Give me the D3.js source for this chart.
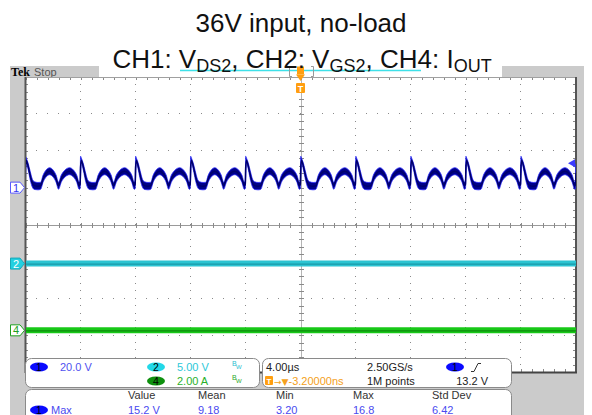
<!DOCTYPE html>
<html><head><meta charset="utf-8">
<script src="https://cdn.jsdelivr.net/npm/d3@7/dist/d3.min.js"></script>
<style>body{margin:0;background:#fff;} svg{display:block;font-family:"Liberation Sans",Arial,sans-serif;}</style>
</head><body><svg id="c" width="592" height="415"></svg>
<script>
// ---------- data ----------
const usPerDiv = 4;                // 4.00 µs / div
const numDivX = 10, numDivY = 8;
const periodsUs = [0, 4, 8, 12, 16, 20, 24, 28, 32, 36];   // start of each CH1 switching cycle (µs)
// one switching cycle of CH1 (VDS2): time in µs, upper and lower edge of the noisy trace in V
const ch1T  = [0.00, 0.06, 0.20, 0.35, 0.50, 0.65, 0.90, 1.10, 1.28, 1.48, 1.75, 2.02, 2.22, 2.40, 2.60, 2.85, 3.20, 3.50, 3.72, 3.90, 3.97];
const ch1Hi = [17.0, 16.0, 13.0, 8.5, 4.5, 3.2, 2.8, 2.9, 6.8, 9.4, 10.8, 9.4, 6.8, 2.9, 6.8, 9.4, 10.8, 9.4, 6.8, 3.0, 4.2];
const ch1Lo = [5.0, 13.5, 9.5, 4.0, 0.2, -1.0, -1.2, -0.9, 3.0, 5.6, 7.0, 5.6, 3.0, -0.9, 3.0, 5.6, 7.0, 5.6, 3.0, -0.9, -0.6];
const ch1EndHi = 13.0, ch1EndLo = 3.0;  // start of the next cycle at the right edge
const ch2T = [0, 40], ch2V = [0, 0];  // VGS2 (V)
const ch4T = [0, 40], ch4I = [0, 0];  // IOUT (A)
const ch1Scale = 20, ch2Scale = 5, ch4Scale = 2;          // per div
const ch1Pos = 1.0, ch2Pos = -1.06, ch4Pos = -2.87;       // ground position (div)
const trigLevel = 13.2;
const titleLine1 = "36V input, no-load";
const measHeaders = ["Value", "Mean", "Min", "Max", "Std Dev"];
const measValues = ["15.2 V", "9.18", "3.20", "16.8", "6.42"];

// ---------- scales ----------
const svg = d3.select("#c");
const x = d3.scaleLinear().domain([0, numDivX * usPerDiv]).range([25.5, 576]);
const yDiv = d3.scaleLinear().domain([-4, 4]).range([372, 77]);
const chY = (pos, sc) => d3.scaleLinear().domain([(-4 - pos) * sc, (4 - pos) * sc]).range([372, 77]);
const y1 = chY(ch1Pos, ch1Scale), y2 = chY(ch2Pos, ch2Scale), y4 = chY(ch4Pos, ch4Scale);

// ---------- scope frame ----------
svg.append("rect").attr("x", 10).attr("y", 66).attr("width", 574).attr("height", 349).attr("fill", "#cbcbcb");
svg.append("rect").attr("x", 99).attr("y", 66).attr("width", 403).attr("height", 11).attr("fill", "#fff");
svg.append("text").attr("x", 11).attr("y", 75.5).attr("font-family", "Liberation Serif,serif")
  .attr("font-weight", "bold").attr("font-size", 12).attr("fill", "#000").text("Tek");
svg.append("text").attr("x", 34).attr("y", 75.5).attr("font-size", 11).attr("fill", "#555").text("Stop");
// record view
svg.append("line").attr("x1", 180).attr("x2", 421).attr("y1", 70.5).attr("y2", 70.5)
  .attr("stroke", "#3ee0e8").attr("stroke-width", 1.5);
svg.append("path").attr("d", "M292,66.5H289.5V76.5H292 M311,66.5H313.5V76.5H311").attr("fill", "none").attr("stroke", "#999");

// plot area
svg.append("rect").attr("x", 25).attr("y", 77).attr("width", 551).attr("height", 295).attr("fill", "#fff");
const grid = svg.append("g");
const dots = [];
d3.range(1, numDivX).filter(i => i !== 5).forEach(i => {
  d3.range(0, numDivY * 5 + 1).forEach(j => dots.push([x(i * usPerDiv), yDiv(-4 + j / 5)]));
});
d3.range(-3, 4).filter(d => d !== 0).forEach(d => {
  d3.range(0, numDivX * 5 + 1).forEach(k => dots.push([x(k * usPerDiv / 5), yDiv(d)]));
});
grid.selectAll("rect.dot").data(dots).join("rect").attr("class", "dot")
  .attr("x", d => Math.round(d[0] - 0.5)).attr("y", d => Math.round(d[1] - 0.5))
  .attr("width", 1).attr("height", 1).attr("fill", "#8a8a8a");
// centre lines with ticks
const cy = Math.round(yDiv(0)) + 0.5, cx = Math.round(x(20)) + 0.5;
grid.append("line").attr("x1", 25).attr("x2", 576).attr("y1", cy).attr("y2", cy).attr("stroke", "#9a9a9a");
grid.append("line").attr("x1", cx).attr("x2", cx).attr("y1", 77).attr("y2", 372).attr("stroke", "#b4b4b4");
const tx = d3.range(0, numDivX * 5 + 1).map(k => Math.round(x(k * usPerDiv / 5)) + 0.5);
const ty = d3.range(0, numDivY * 5 + 1).map(j => Math.round(yDiv(-4 + j / 5)) + 0.5);
let tp = "";
tx.forEach(v => { tp += `M${v},${cy - 2.5}V${cy + 2.5}M${v},77V80M${v},369V372`; });
ty.forEach(v => { tp += `M${cx - 2.5},${v}H${cx + 2.5}M25,${v}H28M573,${v}H576`; });
grid.append("path").attr("d", tp).attr("stroke", "#8a8a8a").attr("stroke-width", 1).attr("fill", "none");
// borders
svg.append("line").attr("x1", 25).attr("x2", 576).attr("y1", 77.5).attr("y2", 77.5).attr("stroke", "#a0a0a0");
svg.append("line").attr("x1", 25.5).attr("x2", 25.5).attr("y1", 77).attr("y2", 373).attr("stroke", "#555").attr("stroke-width", 2);
svg.append("line").attr("x1", 576).attr("x2", 576).attr("y1", 77).attr("y2", 373).attr("stroke", "#555").attr("stroke-width", 2);
svg.append("line").attr("x1", 25).attr("x2", 577).attr("y1", 372.5).attr("y2", 372.5).attr("stroke", "#444").attr("stroke-width", 2);

// trigger markers (top)
svg.append("rect").attr("x", 297).attr("y", 66.5).attr("width", 7).attr("height", 8).attr("fill", "#ff9e10");
svg.append("path").attr("d", "M296,74.5H305L300.5,81Z").attr("fill", "#ff9e10");
svg.append("rect").attr("x", 296).attr("y", 83).attr("width", 9).attr("height", 10).attr("rx", 1).attr("fill", "#ff9e10");
svg.append("text").attr("x", 300.5).attr("y", 91.5).attr("text-anchor", "middle").attr("font-size", 9)
  .attr("font-weight", "bold").attr("fill", "#fff").text("T");

// ---------- traces ----------
svg.append("clipPath").attr("id", "pc").append("rect")
  .attr("x", 26).attr("y", 77).attr("width", 550).attr("height", 295);
const traces = svg.append("g").attr("clip-path", "url(#pc)");
// CH1
const ch1 = [];
periodsUs.forEach(p => ch1T.forEach((t, i) => ch1.push({ t: p + t, hi: ch1Hi[i], lo: ch1Lo[i] })));
ch1.push({ t: numDivX * usPerDiv, hi: ch1EndHi, lo: ch1EndLo });
traces.append("path").datum(ch1)
  .attr("d", d3.area().curve(d3.curveMonotoneX).x(d => x(d.t)).y0(d => y1(d.lo)).y1(d => y1(d.hi)))
  .attr("fill", "#00008c").attr("stroke", "#2a2aff").attr("stroke-width", 0.8);
traces.append("path").datum(ch1)
  .attr("d", d3.line().curve(d3.curveMonotoneX).x(d => x(d.t)).y(d => y1((d.hi + d.lo) / 2)))
  .attr("fill", "none").attr("stroke", "#00006a").attr("stroke-width", 1.5);
// CH2
const ch2 = ch2T.map((t, i) => ({ t, v: ch2V[i] }));
traces.append("path").datum(ch2).attr("d", d3.line().x(d => x(d.t)).y(d => y2(d.v)))
  .attr("stroke", "#2cc4d2").attr("stroke-width", 6).attr("fill", "none");
traces.append("path").datum(ch2).attr("d", d3.line().x(d => x(d.t)).y(d => y2(d.v) + 0.5))
  .attr("stroke", "#1a9aa8").attr("stroke-width", 1.2).attr("fill", "none");
// CH4
const ch4 = ch4T.map((t, i) => ({ t, v: ch4I[i] }));
traces.append("path").datum(ch4).attr("d", d3.line().x(d => x(d.t)).y(d => y4(d.v)))
  .attr("stroke", "#18c818").attr("stroke-width", 6).attr("fill", "none");
traces.append("path").datum(ch4).attr("d", d3.line().x(d => x(d.t)).y(d => y4(d.v) + 0.5))
  .attr("stroke", "#0c8a0c").attr("stroke-width", 1.2).attr("fill", "none");
// trigger level arrow
const tl = y1(trigLevel);
svg.append("path").attr("d", `M568,${tl}L575,${tl - 4}V${tl + 4}Z`).attr("fill", "#3a3aff");

// channel markers
function marker(yc, label, fill, stroke, tcol) {
  const g = svg.append("g");
  g.append("path").attr("d", `M10.5,${yc - 5.5}H20L24.5,${yc}L20,${yc + 5.5}H10.5Z`)
    .attr("fill", fill).attr("stroke", stroke).attr("stroke-width", 1);
  g.append("text").attr("x", 16).attr("y", yc + 4).attr("text-anchor", "middle").attr("font-size", 11)
    .attr("fill", tcol).text(label);
}
marker(y1(0), "1", "#fff", "#5a5aff", "#3434f0");
marker(y2(0), "2", "#22d0e0", "#18a8b8", "#fff");
marker(y4(0), "4", "#fff", "#20a020", "#20a020");

// ---------- readout panels ----------
const panel = svg.append("g").attr("font-size", 11);
[[25.5, 358.5, 234, 29], [262.5, 358.5, 249, 29], [25.5, 389.5, 486, 40]].forEach(b =>
  panel.append("rect").attr("x", b[0]).attr("y", b[1]).attr("width", b[2]).attr("height", b[3])
    .attr("rx", 6).attr("fill", "#fff").attr("stroke", "#8a8a8a"));
function oval(cxp, cyp, fill, label) {
  panel.append("ellipse").attr("cx", cxp).attr("cy", cyp).attr("rx", 9).attr("ry", 4.6).attr("fill", fill);
  panel.append("text").attr("x", cxp).attr("y", cyp + 3.8).attr("text-anchor", "middle").attr("font-size", 10.5)
    .attr("fill", "#000").text(label);
}
const txt = (xp, yp, s, col, anchor) => panel.append("text").attr("x", xp).attr("y", yp)
  .attr("fill", col).attr("text-anchor", anchor || "start").text(s);
oval(39, 367, "#0a0aff", "1"); txt(60, 371, "20.0 V", "#5050f0");
oval(156, 367, "#22d8e8", "2"); txt(177, 371, "5.00 V", "#2cc8d8");
oval(156, 381, "#0e900e", "4"); txt(177, 385, "2.00 A", "#2ab02a");
[[366, "#2cc0d0"], [380, "#2aa82a"]].forEach(([yy, c]) => {
  panel.append("text").attr("x", 232).attr("y", yy).attr("font-size", 7).attr("fill", c).text("B");
  panel.append("text").attr("x", 236).attr("y", yy + 3).attr("font-size", 6).attr("fill", c).text("W");
});
txt(266, 371, "4.00µs", "#222");
txt(367, 371, "2.50GS/s", "#222");
oval(455, 367, "#0a0aff", "1");
panel.append("path").attr("d", "M471,371.5H474L478,363.5H481").attr("fill", "none").attr("stroke", "#333");
panel.append("rect").attr("x", 265).attr("y", 376).attr("width", 8).attr("height", 9).attr("rx", 1).attr("fill", "#ff9e10");
panel.append("text").attr("x", 269).attr("y", 384).attr("text-anchor", "middle").attr("font-size", 8)
  .attr("font-weight", "bold").attr("fill", "#fff").text("T");
const trigTxt = txt(274, 385, "", "#f4a020");
trigTxt.append("tspan").attr("font-family", "DejaVu Sans,sans-serif").attr("font-size", 9).text("→▼");
trigTxt.append("tspan").text("-3.20000ns");
txt(367, 385, "1M points", "#222");
txt(488, 385, "13.2 V", "#222", "end");
const colX = [128, 198, 276, 353, 432];
measHeaders.forEach((h, i) => txt(colX[i], 399, h, "#333"));
oval(39, 410, "#0a0aff", "1"); txt(51, 414, "Max", "#4a4af0");
measValues.forEach((v, i) => txt(colX[i], 414, v, "#4a4af0"));

// ---------- title (on top) ----------
svg.append("text").attr("x", 301).attr("y", 32).attr("text-anchor", "middle")
  .attr("font-size", 26).attr("fill", "#111").text(titleLine1);
const t2 = svg.append("text").attr("x", 302).attr("y", 68).attr("text-anchor", "middle")
  .attr("font-size", 26).attr("fill", "#111");
[["CH1: V", 0, 0], ["DS2", 1, 4], [", CH2: V", 0, -4], ["GS2", 1, 4], [", CH4: I", 0, -4], ["OUT", 1, 4]].forEach(([s, sub, dy]) => {
  const ts = t2.append("tspan").text(s).attr("dy", dy);
  if (sub) ts.attr("font-size", 18);
});
</script></body></html>
